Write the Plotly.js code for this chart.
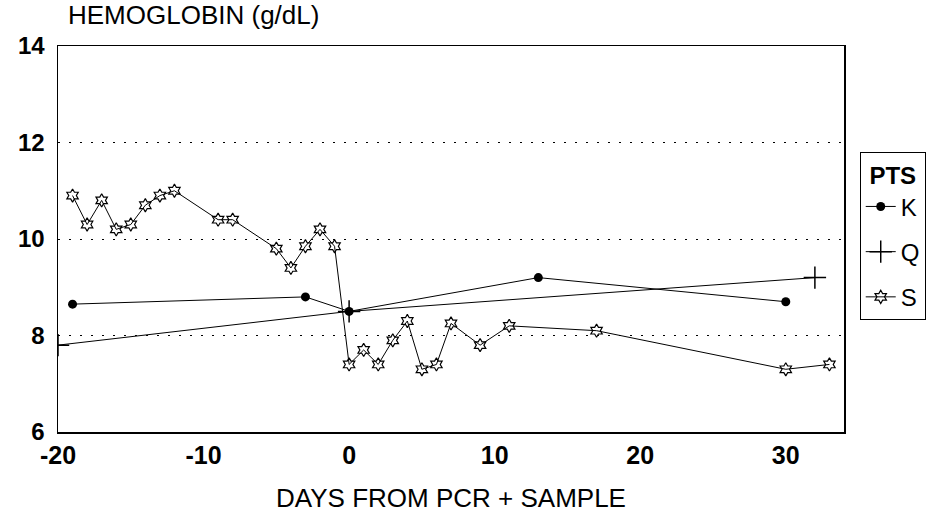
<!DOCTYPE html>
<html>
<head>
<meta charset="utf-8">
<script src="https://cdn.plot.ly/plotly-3.0.1.min.js"></script>
<style>html,body{margin:0;padding:0;background:#fff;}#chart{width:940px;height:525px;}</style>
</head>
<body>
<div id="chart"></div>
<script>
// Patient K
const kDays = [-19, -3, 0, 13, 30];
const kHb   = [8.65, 8.8, 8.5, 9.2, 8.7];
// Patient Q
const qDays = [-20, 0, 32];
const qHb   = [7.8, 8.5, 9.2];
// Patient S
const sDays = [-19, -18, -17, -16, -15, -14, -13, -12, -9, -8, -5, -4, -3, -2, -1,
               0, 1, 2, 3, 4, 5, 6, 7, 9, 11, 17, 30, 33];
const sHb   = [10.9, 10.3, 10.8, 10.2, 10.3, 10.7, 10.9, 11.0, 10.4, 10.4, 9.8, 9.4, 9.85, 10.2, 9.85,
               7.4, 7.7, 7.4, 7.9, 8.3, 7.3, 7.4, 8.25, 7.8, 8.2, 8.1, 7.3, 7.4];
const xTicks = [-20, -10, 0, 10, 20, 30];
const yTicks = [6, 8, 10, 12, 14];

const font = "'Liberation Sans', Arial, sans-serif";

const traces = [
  {x: kDays, y: kHb, name: 'K', legendgroup: 'k', mode: 'lines+markers', type: 'scatter',
   line: {color: '#000', width: 1},
   marker: {symbol: 'circle', size: 9, color: '#000'}},
  {x: qDays, y: qHb, name: 'Q', legendgroup: 'q', mode: 'lines+markers', type: 'scatter',
   line: {color: '#000', width: 1},
   marker: {symbol: 'cross-thin-open', size: 16, color: '#000', line: {color: '#000', width: 1.5}}},
  {x: sDays, y: sHb, name: 'S', legendgroup: 's', mode: 'lines+markers', type: 'scatter',
   line: {color: '#000', width: 1},
   marker: {symbol: 'hexagram-open', size: 10, color: '#000', line: {color: '#000', width: 1.2}}}
];

const layout = {
  width: 940, height: 525,
  margin: {l: 58, r: 96, t: 46, b: 93},
  paper_bgcolor: '#fff', plot_bgcolor: '#fff',
  font: {family: font, color: '#000', size: 24},
  showlegend: true,
  legend: {
    x: 1.02, xanchor: 'left', y: 0.725, yanchor: 'top',
    bordercolor: '#000', borderwidth: 1, bgcolor: '#fff',
    font: {family: font, size: 24, color: '#000'},
    title: {text: '<b>PTS</b>', side: 'top center', font: {family: font, size: 24}},
    itemwidth: 30, tracegroupgap: 11
  },
  xaxis: {
    range: [-20, 34], tickvals: xTicks, ticktext: xTicks.map(String),
    showgrid: false, zeroline: false, showline: true, mirror: true,
    linecolor: '#000', linewidth: 1.5, ticks: '',
    tickfont: {family: font, size: 25, color: '#000', weight: 'bold'},
    title: {text: 'DAYS FROM PCR + SAMPLE', standoff: 21, font: {family: font, size: 26, color: '#000'}}
  },
  yaxis: {
    range: [6, 14], tickvals: yTicks, ticktext: yTicks.map(String),
    showgrid: true, gridcolor: '#000', gridwidth: 1, griddash: '2px,9px',
    zeroline: false, showline: true, mirror: true,
    linecolor: '#000', linewidth: 1.5, ticks: '',
    tickfont: {family: font, size: 24, color: '#000', weight: 'bold'},
    ticklabelstandoff: 7
  },
  annotations: [{
    text: 'HEMOGLOBIN (g/dL)', xref: 'paper', yref: 'paper', x: 0.01, y: 1.0,
    xanchor: 'left', yanchor: 'bottom', yshift: 14, showarrow: false,
    font: {family: font, size: 26, color: '#000'}
  }]
};

Plotly.newPlot('chart', traces, layout, {displayModeBar: false, staticPlot: true});
</script>
</body>
</html>
